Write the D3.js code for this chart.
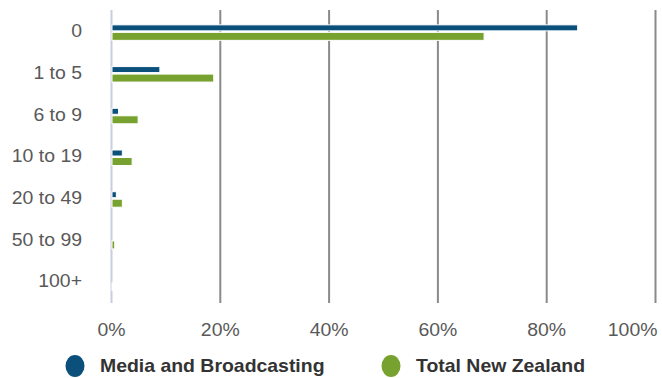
<!DOCTYPE html>
<html>
<head>
<meta charset="utf-8">
<script src="https://cdn.jsdelivr.net/npm/d3@7"></script>
<style>
  html, body { margin: 0; padding: 0; background: #fff; }
  svg { display: block; font-family: "Liberation Sans", Arial, sans-serif; }
</style>
</head>
<body>
<svg id="chart" width="662" height="378"></svg>
<script>
// Share of enterprises by employee count band
const categories = ["0", "1 to 5", "6 to 9", "10 to 19", "20 to 49", "50 to 99", "100+"];
const mediaValues = [85.6, 8.8, 1.2, 1.9, 0.8, 0, 0];
const totalNZValues = [68.4, 18.7, 4.8, 3.7, 1.9, 0.5, 0.1];
const seriesNames = ["Media and Broadcasting", "Total New Zealand"];
const seriesColors = ["#0b4f7b", "#78a22f"];
const tickValues = [0, 20, 40, 60, 80, 100];

const svg = d3.select("#chart");
const plot = { left: 111.5, right: 655.5, top: 10, bottom: 302 };
const textStretch = 1.08;   // slightly widened lettering

const x = d3.scaleLinear().domain([0, 100]).range([plot.left, plot.right]);
const y = d3.scaleBand().domain(categories).range([plot.top, plot.bottom]);

// vertical gridlines
svg.append("g")
  .selectAll("line")
  .data(tickValues.filter(d => d > 0))
  .join("line")
  .attr("x1", d => x(d)).attr("x2", d => x(d))
  .attr("y1", plot.top).attr("y2", plot.bottom + 1)
  .attr("stroke", "#8a8a8a")
  .attr("stroke-width", 2);

// category axis line
svg.append("line")
  .attr("x1", x(0)).attr("x2", x(0))
  .attr("y1", plot.top).attr("y2", plot.bottom + 1)
  .attr("stroke", "#c9cde0")
  .attr("stroke-width", 2);

// bars: two per category
const barSpec = [
  { values: mediaValues, color: seriesColors[0], offset: -3, h: 6 },
  { values: totalNZValues, color: seriesColors[1], offset: 5.5, h: 8 }
];
barSpec.forEach(s => {
  svg.append("g")
    .selectAll("rect")
    .data(categories.map((c, i) => ({ c, v: s.values[i] })).filter(d => d.v > 0))
    .join("rect")
    .attr("x", x(0) + 0.5)
    .attr("y", d => y(d.c) + y.bandwidth() / 2 + s.offset - s.h / 2)
    .attr("width", d => x(d.v) - x(0))
    .attr("height", s.h)
    .attr("fill", s.color)
    .attr("stroke", "#fff")
    .attr("stroke-width", 1);
});

// category labels
svg.append("g")
  .selectAll("text")
  .data(categories)
  .join("text")
  .attr("transform", d => `translate(82,${y(d) + y.bandwidth() / 2}) scale(${textStretch},1)`)
  .attr("dy", "0.35em")
  .attr("text-anchor", "end")
  .attr("font-size", 18)
  .attr("fill", "#595959")
  .text(d => d);

// value axis labels
svg.append("g")
  .selectAll("text")
  .data(tickValues)
  .join("text")
  .attr("transform", d => `translate(${d === 100 ? x(d) + 2 : x(d)},330) scale(${textStretch},1)`)
  .attr("dy", "0.35em")
  .attr("text-anchor", d => d === 100 ? "end" : "middle")
  .attr("font-size", 18)
  .attr("fill", "#595959")
  .text(d => d + "%");

// legend
const legendX = [75, 391];
const legend = svg.append("g")
  .selectAll("g")
  .data(seriesNames)
  .join("g")
  .attr("transform", (d, i) => `translate(${legendX[i]},366)`);
legend.append("ellipse")
  .attr("rx", 9.5).attr("ry", 11)
  .attr("fill", (d, i) => seriesColors[i]);
legend.append("text")
  .attr("transform", `translate(25,0) scale(${textStretch},1)`)
  .attr("dy", "0.35em")
  .attr("font-size", 18)
  .attr("font-weight", "bold")
  .attr("fill", "#333")
  .text(d => d);
</script>
</body>
</html>
